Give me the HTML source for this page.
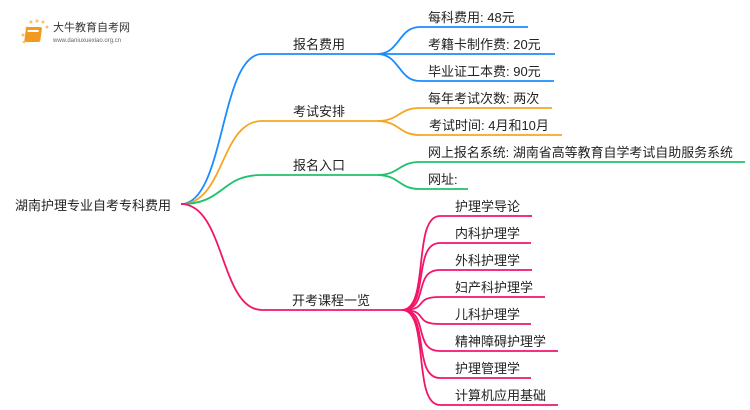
<!DOCTYPE html>
<html><head><meta charset="utf-8"><style>
html,body{margin:0;padding:0;background:#fff;width:750px;height:410px;overflow:hidden}
svg text{font-family:"Liberation Sans","Noto Sans CJK SC",sans-serif;fill:#222}
</style></head><body>
<svg width="750" height="410" viewBox="0 0 750 410" xmlns="http://www.w3.org/2000/svg">
<g>
<circle cx="27" cy="28" r="1.5" fill="#f5c26b"/><circle cx="31" cy="22" r="1.5" fill="#f5c26b"/><circle cx="37" cy="21" r="1.5" fill="#f5c26b"/><circle cx="43" cy="22" r="1.5" fill="#f5c26b"/><circle cx="47" cy="27" r="1.5" fill="#f5c26b"/><circle cx="23" cy="35" r="1.5" fill="#f5c26b"/><circle cx="24" cy="42" r="1.3" fill="#f5c26b"/>
<rect x="30" y="27" width="16" height="15" rx="2" fill="#f29a1f" transform="skewX(-8)"/>
<rect x="32" y="30" width="11" height="2" fill="#fff" transform="skewX(-8)"/>
<text x="53" y="31" font-size="11" style="fill:#333">大牛教育自考网</text>
<text x="53" y="42" font-size="6" style="fill:#666">www.daniuxuexiao.org.cn</text>
</g>
<g fill="none" stroke-width="1.8">
<path d="M181,204 C225,204 220,54 262,54 L377,54" stroke="#1a8cff"/>
<path d="M377,54 C400,54 398,27 420,27 L528,27 M377,54 L555,54 M377,54 C400,54 398,81 420,81 L554,81" stroke="#1a8cff"/>
<path d="M181,204 C225,204 220,121 262,121 L377,121" stroke="#f5a623"/>
<path d="M377,121 C400,121 398,108 420,108 L552,108 M377,121 C400,121 398,135 420,135 L562,135" stroke="#f5a623"/>
<path d="M181,204 C225,204 220,175 262,175 L377,175" stroke="#1ec26a"/>
<path d="M377,175 C400,175 398,162 420,162 L745,162 M377,175 C400,175 398,189 420,189 L468,189" stroke="#1ec26a"/>
<path d="M181,204 C225,204 220,310 262,310 L402,310" stroke="#f0166a"/>
<g stroke="#f0166a">
<path d="M402,310 C430,310 412,216 440,216 L532,216"/>
<path d="M402,310 C430,310 412,243 440,243 L531,243"/>
<path d="M402,310 C430,310 412,270 440,270 L532,270"/>
<path d="M402,310 C430,310 412,297 440,297 L545,297"/>
<path d="M402,310 C430,310 412,324 440,324 L531,324"/>
<path d="M402,310 C430,310 412,351 440,351 L558,351"/>
<path d="M402,310 C430,310 412,378 440,378 L531,378"/>
<path d="M402,310 C430,310 412,405 440,405 L558,405"/>
</g>
</g>
<text x="15" y="210" font-size="13">湖南护理专业自考专科费用</text>
<g font-size="13">
<text x="293" y="49">报名费用</text>
<text x="293" y="116">考试安排</text>
<text x="293" y="170">报名入口</text>
<text x="292" y="305">开考课程一览</text>
<text x="428" y="22">每科费用: 48元</text>
<text x="428" y="49">考籍卡制作费: 20元</text>
<text x="428" y="76">毕业证工本费: 90元</text>
<text x="428" y="103">每年考试次数: 两次</text>
<text x="429" y="130">考试时间: 4月和10月</text>
<text x="428" y="157" textLength="305" lengthAdjust="spacingAndGlyphs">网上报名系统: 湖南省高等教育自学考试自助服务系统</text>
<text x="428" y="184">网址:</text>
<text x="455" y="211">护理学导论</text>
<text x="455" y="238">内科护理学</text>
<text x="455" y="265">外科护理学</text>
<text x="455" y="292">妇产科护理学</text>
<text x="455" y="319">儿科护理学</text>
<text x="455" y="346">精神障碍护理学</text>
<text x="455" y="373">护理管理学</text>
<text x="455" y="400">计算机应用基础</text>
</g>
</svg>
</body></html>
